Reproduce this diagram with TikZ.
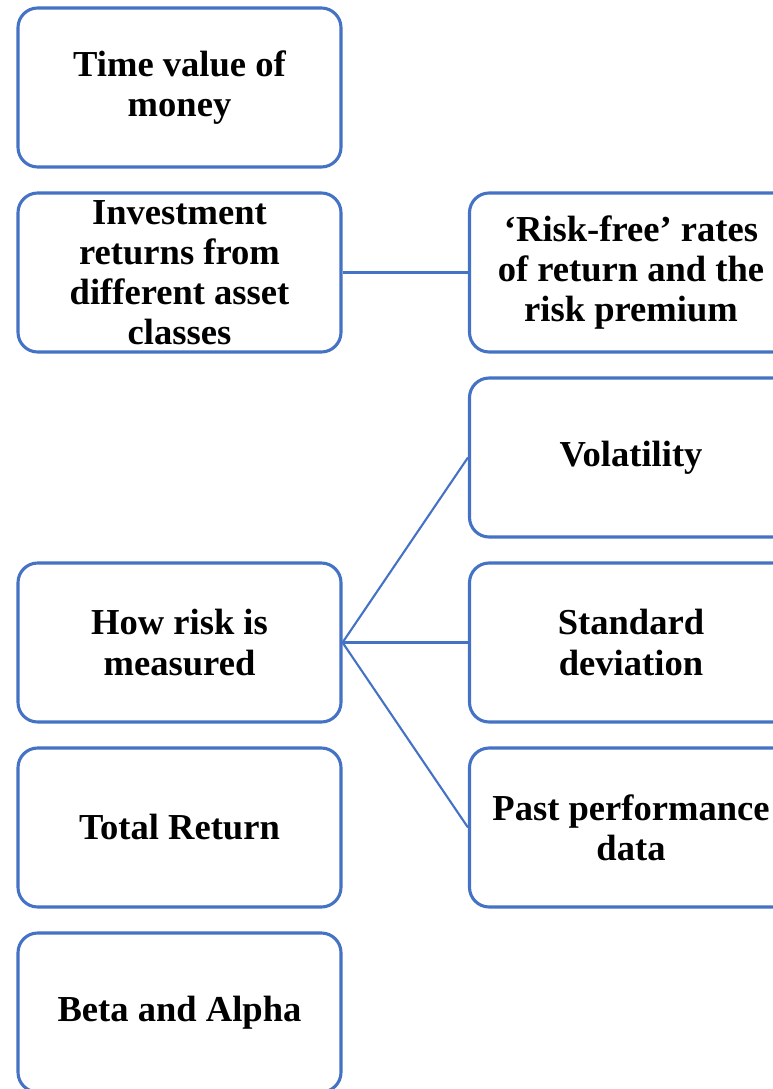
\documentclass[tikz,border=0pt]{standalone}
\usepackage{fontspec}
\setmainfont{Liberation Serif}
\definecolor{boxblue}{RGB}{68,114,196}
\tikzset{topic/.style={draw=boxblue, line width=2.2pt, rounded corners=14pt, minimum width=323*0.025cm, minimum height=159*0.025cm, align=center, font=\fontsize{26}{28.5}\selectfont\bfseries, inner sep=0pt},
link/.style={draw=boxblue, line width=1.5pt}}
\begin{document}
\begin{tikzpicture}[x=0.025cm,y=-0.025cm]
\useasboundingbox (0,0) rectangle (773,1089);
\clip (0,0) rectangle (773,1089);
\node [topic] (time) at (179.5,87.5) {Time value of\\money};
\node [topic] (invest) at (179.5,272.5) {Investment\\returns from\\different asset\\classes};
\node [topic] (riskfree) at (631,272.5) {‘Risk-free’ rates\\of return and the\\risk premium};
\node [topic] (volat) at (631,457.5) {Volatility};
\node [topic] (howrisk) at (179.5,642.5) {How risk is\\measured};
\node [topic] (stdev) at (631,642.5) {Standard\\deviation};
\node [topic] (total) at (179.5,827.5) {Total Return};
\node [topic] (past) at (631,827.5) {Past performance\\data};
\node [topic] (beta) at (179.5,1012.5) {Beta and Alpha};
\draw [link] (invest.east) -- (riskfree.west);
\foreach \n in {volat,stdev,past}
	\draw [link] (howrisk.east) -- (\n.west);
\end{tikzpicture}
\end{document}
